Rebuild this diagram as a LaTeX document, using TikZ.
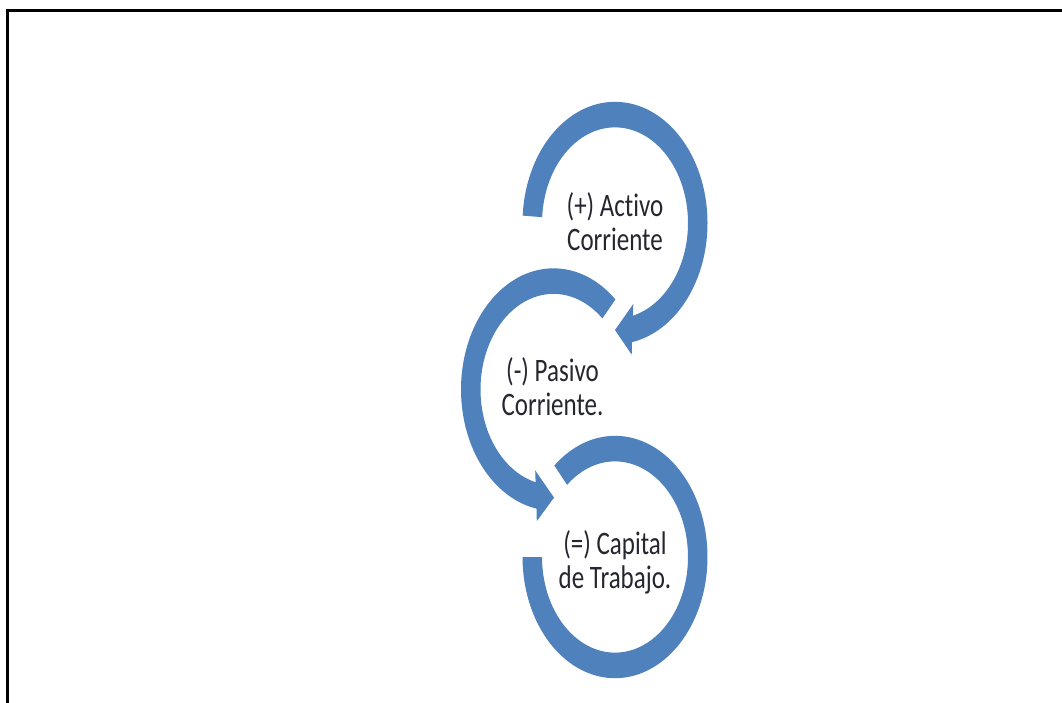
\documentclass[tikz,border=0pt]{standalone}
\usepackage{fontspec}
\setmainfont[Ligatures=NoCommon]{Carlito}
\definecolor{ringblue}{RGB}{79,129,189}
\definecolor{txtcol}{RGB}{38,38,48}
\begin{document}
\begin{tikzpicture}[x=1pt,y=-1pt,
  ring/.style={fill=ringblue},
  txt/.style={font=\fontsize{25}{26}\selectfont, text=txtcol, align=center, yscale=1.31, transform shape, inner sep=0pt},
  frame/.style={line width=3pt, line join=miter}]
\useasboundingbox (0,0) rectangle (1062,702);
\fill[white] (0,0) rectangle (1062,702);
% border
\draw[frame] (1063,10.5) -- (7,10.5) -- (7,703);
% ring 1 (top), clockwise with arrowhead
\begin{scope}[shift={(615,223)}, yscale=-1.31]
\fill[ring] (176.5:92.5) -- plot[domain=176.5:-79.4, samples=120] (\x:92.5)
  -- (16.7,-100.5) -- (0,-81.7) -- (18.3,-61.8) -- (-75.8:73)
  -- plot[domain=-75.8:176.5, samples=120] (\x:73) -- cycle;
\end{scope}
% ring 2 (middle), counter-clockwise with arrowhead
\begin{scope}[shift={(553.5,389.5)}, yscale=-1.31]
\fill[ring] (48:92.5) -- plot[domain=48:259.4, samples=120] (\x:92.5)
  -- (-16.7,-100.5) -- (0.5,-82.5) -- (-18.3,-61.8) -- (255.8:73)
  -- plot[domain=255.8:48, samples=120] (\x:73) -- cycle;
\end{scope}
% ring 3 (bottom), clockwise, no arrowhead
\begin{scope}[shift={(615,557)}, yscale=-1.31]
\fill[ring] (131:92.5) -- plot[domain=131:-180, samples=140] (\x:92.5)
  -- (-180:73) -- plot[domain=-180:131, samples=140] (\x:73) -- cycle;
\end{scope}
% texts
\node[txt] (t1) at (615,222) {(+) Activo\\Corriente};
\node[txt] (t2) at (552.5,387) {(-) Pasivo\\Corriente.};
\node[txt] (t3) at (615,562) {(=) Capital\\de Trabajo.};
\end{tikzpicture}
\end{document}
